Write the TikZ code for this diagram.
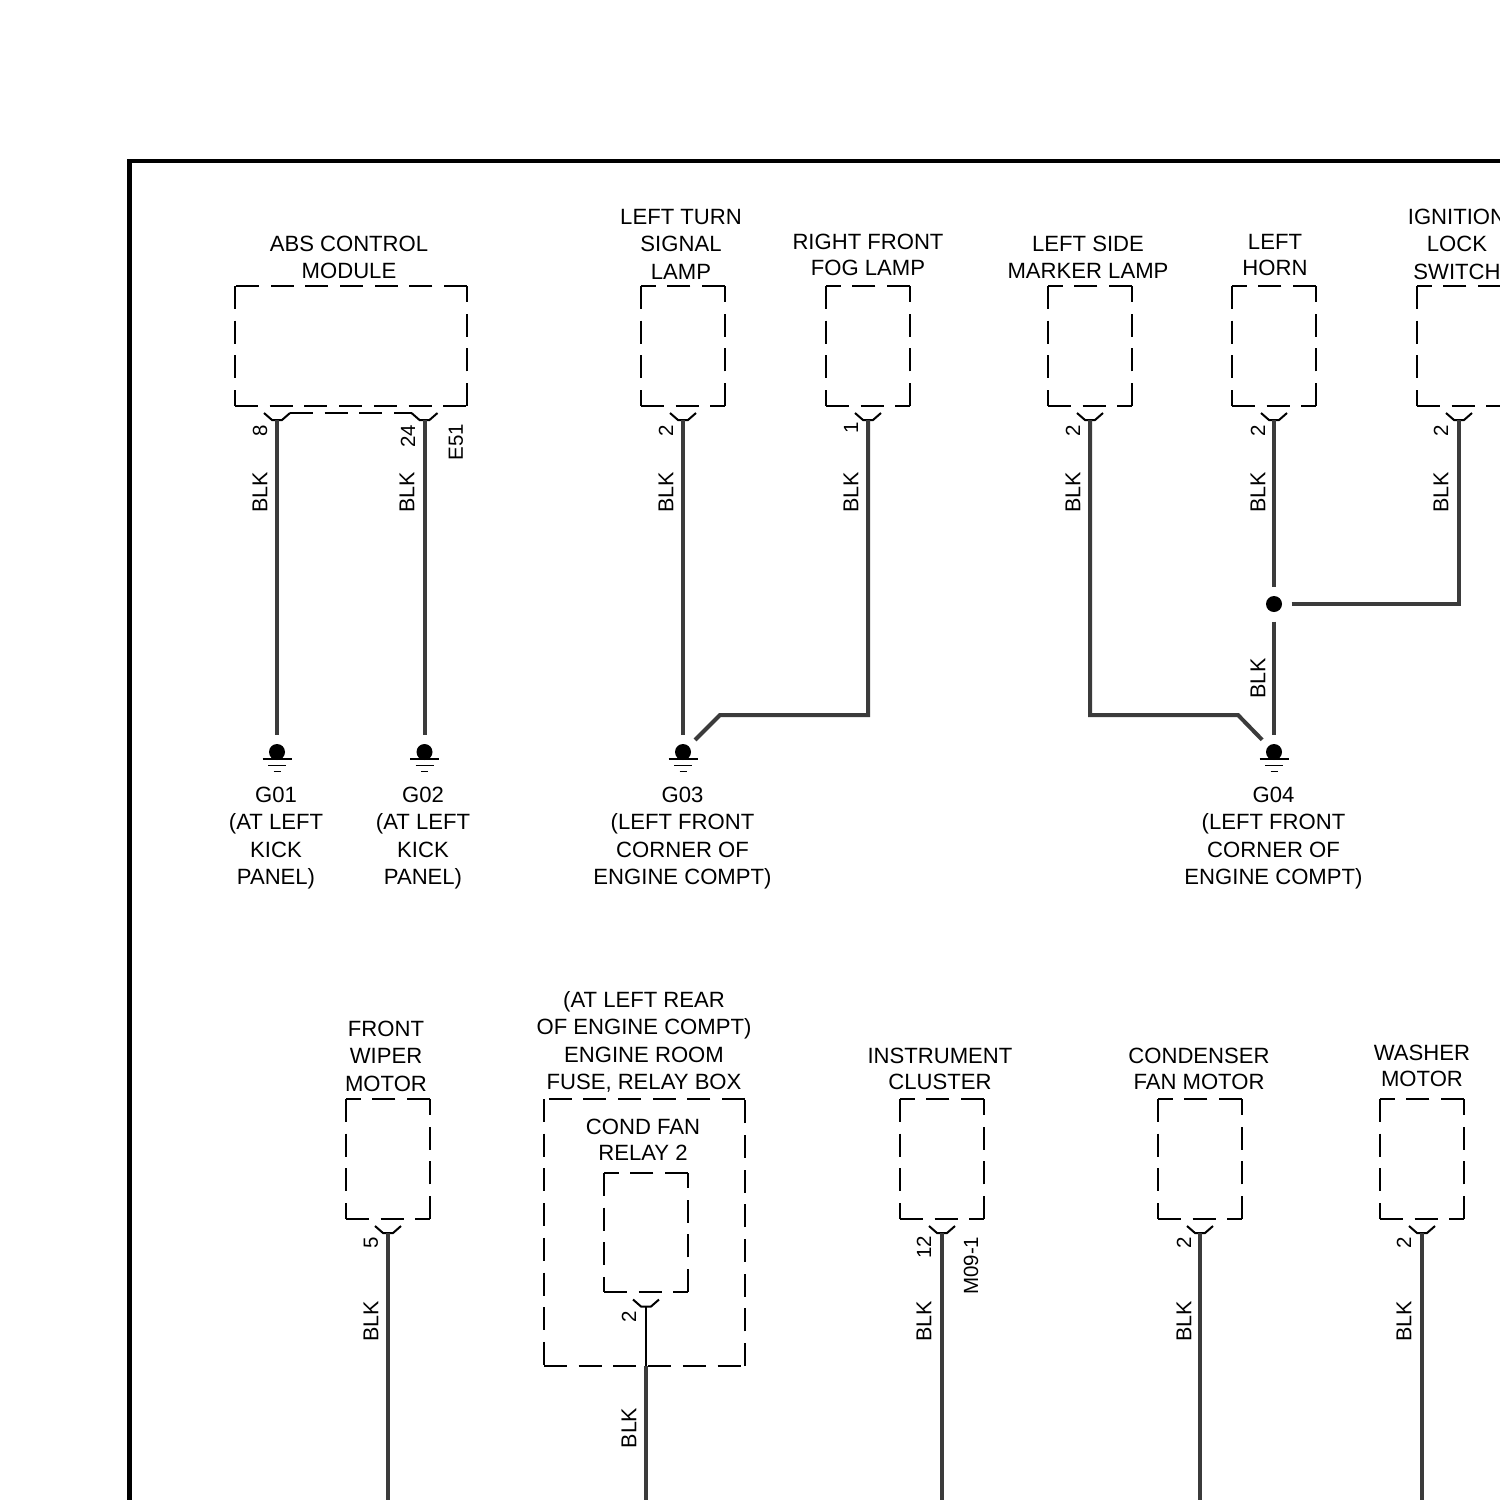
\documentclass[tikz,border=0pt]{standalone}
\usepackage{fontspec}
\setmainfont{Liberation Sans}
\usetikzlibrary{positioning}
\definecolor{fil}{rgb}{0.23,0.23,0.23}
\tikzset{
  label/.style={align=center,inner sep=0pt,font=\fontsize{22.1}{27.4}\selectfont},
  serre/.style={align=center,inner sep=0pt,font=\fontsize{22.1}{26.4}\selectfont},
  vert/.style={rotate=90,inner sep=0pt,font=\fontsize{21.5}{24}\selectfont},
  pin/.style={rotate=90,inner sep=0pt,anchor=east,font=\fontsize{20.5}{24}\selectfont},
  boite/.style={rectangle,inner sep=0pt,outer sep=0pt},
  tiret/.style={line width=1.9pt,dash pattern=on 23pt off 11.7pt,line cap=butt,black},
  wire/.style={line width=4pt,color=fil,line join=miter},
  fine/.style={line width=2pt,black},
  point/.style={circle,fill=black,inner sep=0pt,minimum size=16pt,outer sep=9pt},
  masse/.style={line width=1.8pt,black},
}
\begin{document}
\begin{tikzpicture}[x=1pt,y=-1pt]
\clip (0,0) rectangle (1500,1500);
% cadre
\draw[line width=4.6pt,black] (129.7,1510) |- (1510,161);

% description et nommage des boites
\node (ABS) at (351,346) [boite,minimum width=232pt,minimum height=120pt] {};
\node (TURN) at (683,346) [boite,minimum width=84pt,minimum height=120pt] {};
\node (FOG) at (868,346) [boite,minimum width=84pt,minimum height=120pt] {};
\node (SIDE) at (1090,346) [boite,minimum width=84pt,minimum height=120pt] {};
\node (HORN) at (1274,346) [boite,minimum width=84pt,minimum height=120pt] {};
\node (IGN) at (1459,346) [boite,minimum width=84pt,minimum height=120pt] {};
\node (WIPER) at (388,1159) [boite,minimum width=84pt,minimum height=120pt] {};
\node (FUSE) at (644.5,1232.5) [boite,minimum width=201pt,minimum height=267pt] {};
\node (RELAY) at (646,1232.5) [boite,minimum width=84pt,minimum height=119pt] {};
\node (CLUSTER) at (942,1159) [boite,minimum width=84pt,minimum height=120pt] {};
\node (COND) at (1200,1159) [boite,minimum width=84pt,minimum height=120pt] {};
\node (WASH) at (1422,1159) [boite,minimum width=84pt,minimum height=120pt] {};
\foreach \b in {ABS,TURN,FOG,SIDE,HORN,IGN,WIPER,FUSE,RELAY,CLUSTER,COND,WASH} {
  \draw[tiret] (\b.south west) -- (\b.south east);
  \draw[tiret] (\b.south east) -- (\b.north east);
  \draw[tiret] (\b.north east) -- (\b.north west);
  \draw[tiret] (\b.north west) -- (\b.south west);
}

% textes des boites
\node (tABS) at (349,257.2) [label] {ABS CONTROL\\MODULE};
\node (tTURN) at (681,244) [label] {LEFT TURN\\SIGNAL\\LAMP};
\node (tFOG) at (868,254.7) [serre] {RIGHT FRONT\\FOG LAMP};
\node (tSIDE) at (1088,257.5) [label] {LEFT SIDE\\MARKER LAMP};
\node (tHORN) at (1275,254.7) [serre] {LEFT\\HORN};
\node (tIGN) at (1457,244) [label] {IGNITION\\LOCK\\SWITCH};
\node (tWIPER) at (386,1056.3) [label] {FRONT\\WIPER\\MOTOR};
\node (tFUSE) at (644,1041.8) [label] {(AT LEFT REAR\\OF ENGINE COMPT)\\ENGINE ROOM\\FUSE, RELAY BOX};
\node (tRELAY) at (643,1140) [serre] {COND FAN\\RELAY 2};
\node (tCLUSTER) at (940,1069) [serre] {INSTRUMENT\\CLUSTER};
\node (tCOND) at (1199,1069) [serre] {CONDENSER\\FAN MOTOR};
\node (tWASH) at (1422,1066) [serre] {WASHER\\MOTOR};

% broches
\coordinate (P1) at (277,420);
\coordinate (P2) at (424.5,420);
\coordinate (P3) at (683,420);
\coordinate (P4) at (868,420);
\coordinate (P5) at (1090,420);
\coordinate (P6) at (1274,420);
\coordinate (P7) at (1459,420);
\coordinate (P8) at (388,1233);
\coordinate (P9) at (646,1306.5);
\coordinate (P10) at (942,1233);
\coordinate (P11) at (1200,1233);
\coordinate (P12) at (1422,1233);
\foreach \p in {P1,P2,P3,P4,P5,P6,P7,P8,P9,P10,P11,P12} {
  \draw[fine] ([shift={(-13,-7)}]\p) -- ([shift={(-5,0)}]\p) -- ([shift={(5,0)}]\p) -- ([shift={(13,-7)}]\p);
}
\draw[tiret,line width=1.5pt] ([shift={(13,-7)}]P1) -- ([shift={(-13,-7)}]P2);

% masses
\node (G1) at (277,752) [point] {};
\node (G2) at (424.5,752) [point] {};
\node (G3) at (683,752) [point] {};
\node (G4) at (1274,752) [point] {};
\foreach \g in {G1,G2,G3,G4} {
  \draw[masse] ([shift={(-14.5,7)}]\g.center) -- ([shift={(14.5,7)}]\g.center);
  \draw[masse] ([shift={(-9,13.5)}]\g.center) -- ([shift={(9,13.5)}]\g.center);
  \draw[masse] ([shift={(-3.5,19.5)}]\g.center) -- ([shift={(3.5,19.5)}]\g.center);
}
\node (J) at (1274,604) [point,outer sep=9.5pt] {};
\node (tG1) at (276,838) [label] {G01\\(AT LEFT\\KICK\\PANEL)};
\node (tG2) at (423,838) [label] {G02\\(AT LEFT\\KICK\\PANEL)};
\node (tG3) at (682.5,838) [label] {G03\\(LEFT FRONT\\CORNER OF\\ENGINE COMPT)};
\node (tG4) at (1273.5,838) [label] {G04\\(LEFT FRONT\\CORNER OF\\ENGINE COMPT)};

% fils
\coordinate (K1) at (720,715);
\coordinate (K2) at (1238,715);
\coordinate (B8) at (388,1510);
\coordinate (R1) at (646,1366);
\coordinate (B9) at (646,1510);
\coordinate (B10) at (942,1510);
\coordinate (B11) at (1200,1510);
\coordinate (B12) at (1422,1510);
\draw[wire] (P1) -- (G1);
\draw[wire] (P2) -- (G2);
\draw[wire] (P3) -- (G3);
\draw[wire] (P4) |- (K1) -- (G3);
\draw[wire] (P5) |- (K2) -- (G4);
\draw[wire] (P6) -- (J);
\draw[wire] (J) -- (G4);
\draw[wire] (J) -| (P7);
\draw[wire] (P8) -- (B8);
\draw[fine] (P9) -- (R1);
\draw[wire] (R1) -- (B9);
\draw[wire] (P10) -- (B10);
\draw[wire] (P11) -- (B11);
\draw[wire] (P12) -- (B12);

% numeros et couleurs de fils
\node (n1) at (260,424.5) [pin] {8};
\node (n2) at (408,424.5) [pin] {24};
\node (e1) at (456,423.5) [pin] {E51};
\node (n3) at (666,424.5) [pin] {2};
\node (n4) at (851,422) [pin] {1};
\node (n5) at (1073,424.5) [pin] {2};
\node (n6) at (1258,424.5) [pin] {2};
\node (n7) at (1441,424.5) [pin] {2};
\node (n8) at (371,1236.5) [pin] {5};
\node (n9) at (629,1310.5) [pin] {2};
\node (n10) at (924,1235.5) [pin] {12};
\node (e2) at (971,1236.5) [pin] {M09-1};
\node (n11) at (1184,1236.5) [pin] {2};
\node (n12) at (1404,1236.5) [pin] {2};
\node (c1) at (260,492.5) [vert] {BLK};
\node (c2) at (407,492.5) [vert] {BLK};
\node (c3) at (666,492.5) [vert] {BLK};
\node (c4) at (851,492.5) [vert] {BLK};
\node (c5) at (1073,492.5) [vert] {BLK};
\node (c6) at (1258,492.5) [vert] {BLK};
\node (c7) at (1441,492.5) [vert] {BLK};
\node (c8) at (1258,678.5) [vert] {BLK};
\node (c9) at (371,1321.5) [vert] {BLK};
\node (c10) at (629,1428) [vert] {BLK};
\node (c11) at (924,1321.5) [vert] {BLK};
\node (c12) at (1184,1321.5) [vert] {BLK};
\node (c13) at (1404,1321.5) [vert] {BLK};
\end{tikzpicture}
\end{document}
